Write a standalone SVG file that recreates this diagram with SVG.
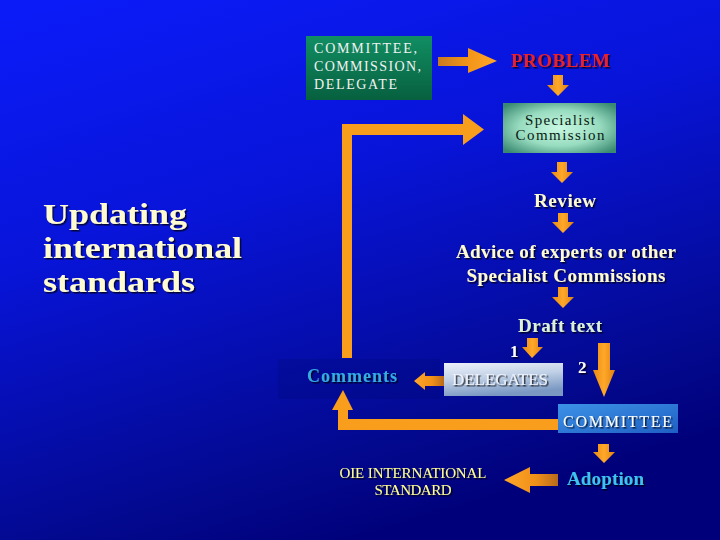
<svg xmlns="http://www.w3.org/2000/svg" width="720" height="540" viewBox="0 0 720 540">
<defs>
<linearGradient id="bg" x1="0.1" y1="0" x2="0.5" y2="1">
<stop offset="0" stop-color="#0b1bf7"/>
<stop offset="0.4" stop-color="#0814d8"/>
<stop offset="0.85" stop-color="#03098f"/>
<stop offset="1" stop-color="#00007a"/>
</linearGradient>
<linearGradient id="gGreen" x1="0" y1="0" x2="0" y2="1">
<stop offset="0" stop-color="#118e63"/>
<stop offset="1" stop-color="#07603f"/>
</linearGradient>
<radialGradient id="gSpec" cx="0.5" cy="0.5" r="0.65">
<stop offset="0" stop-color="#c8f8e2"/>
<stop offset="0.55" stop-color="#98dcc0"/>
<stop offset="1" stop-color="#3a8a72"/>
</radialGradient>
<linearGradient id="gDel" x1="0" y1="0" x2="0.3" y2="1">
<stop offset="0" stop-color="#eef2fa"/>
<stop offset="0.5" stop-color="#c0d0e6"/>
<stop offset="1" stop-color="#7a98c2"/>
</linearGradient>
<linearGradient id="gCom" x1="0" y1="0" x2="1" y2="1">
<stop offset="0" stop-color="#3c92e6"/>
<stop offset="1" stop-color="#1f5fc4"/>
</linearGradient>
<linearGradient id="gDown" x1="0" y1="0" x2="1" y2="0">
<stop offset="0" stop-color="#e88a12"/>
<stop offset="0.5" stop-color="#ffa82a"/>
<stop offset="1" stop-color="#e0820e"/>
</linearGradient>
<linearGradient id="gLeft" x1="0" y1="0" x2="1" y2="0">
<stop offset="0" stop-color="#ffa62a"/>
<stop offset="0.6" stop-color="#f09018"/>
<stop offset="1" stop-color="#b86a1c"/>
</linearGradient>
<linearGradient id="gRight" x1="0" y1="0" x2="1" y2="0">
<stop offset="0" stop-color="#c87a22"/>
<stop offset="0.5" stop-color="#f29418"/>
<stop offset="1" stop-color="#ffa82a"/>
</linearGradient>
<filter id="sh" x="-10%" y="-20%" width="130%" height="160%">
<feDropShadow dx="1.5" dy="1.5" stdDeviation="0.6" flood-color="#000" flood-opacity="0.75"/>
</filter>
</defs>
<style>
text{font-family:"Liberation Serif","Times New Roman",serif;}
.b{font-weight:bold;}
.cream{fill:#fffbd0;}
.loop{fill:#f99d1c;}
.down{fill:url(#gDown);}
.left{fill:url(#gLeft);}
.right{fill:url(#gRight);}
.sh{filter:url(#sh);}
</style>
<rect width="720" height="540" fill="url(#bg)"/>
<rect x="278" y="359" width="162" height="40" fill="#000a7a" opacity="0.3"/>

<g id="title">
<text class="b cream sh" x="43" y="224" font-size="30" textLength="144" lengthAdjust="spacingAndGlyphs">Updating</text>
<text class="b cream sh" x="43" y="258" font-size="30" textLength="199" lengthAdjust="spacingAndGlyphs">international</text>
<text class="b cream sh" x="43" y="292" font-size="30" textLength="152" lengthAdjust="spacingAndGlyphs">standards</text>
</g>

<g id="connectors">
<polygon class="right" points="438,57 468,57 468,48 497,61 468,73 468,66 438,66"/>
<polygon class="down" points="553,75 563,75 563,85 569,85 558,96 547,85 553,85"/>
<polygon class="down" points="557,162 567,162 567,172 573,172 562,183 551,172 557,172"/>
<polygon class="down" points="558,213 568,213 568,222 574,222 563,233 552,222 558,222"/>
<polygon class="down" points="558,287 568,287 568,297 574,297 563,308 552,297 558,297"/>
<polygon class="down" points="527,338 538,338 538,347 543,347 532,358 522,347 527,347"/>
<polygon class="down" points="598,343 610,343 610,370 615,370 604,397 593,370 598,370"/>
<polygon class="down" points="598,444 609,444 609,452 615,452 604,463 593,452 598,452"/>
<polygon class="left" points="414,381 425,372 425,376 444,376 444,386 425,386 425,390"/>
<polygon class="left" points="504,480 530,467 530,474 558,474 558,486 530,486 530,493"/>
<polygon class="loop" points="558,419 348,419 348,410 353,410 343,390 332,410 338,410 338,430 558,430"/>
<polygon class="loop" points="342,358 352,358 352,135 463,135 463,145 484,129.5 463,114 463,124 342,124"/>
</g>

<g id="source">
<rect x="306" y="36" width="126" height="64" fill="url(#gGreen)"/>
<text x="314" y="53" font-size="14" fill="#f2f2f2" textLength="103" lengthAdjust="spacing">COMMITTEE,</text>
<text x="314" y="71" font-size="14" fill="#f2f2f2" textLength="107" lengthAdjust="spacing">COMMISSION,</text>
<text x="314" y="89" font-size="14" fill="#f2f2f2" textLength="83" lengthAdjust="spacing">DELEGATE</text>
</g>

<g id="problem">
<text class="b sh" x="511" y="67" font-size="19" fill="#e8202c" textLength="99" lengthAdjust="spacing">PROBLEM</text>
</g>

<g id="specialist">
<rect x="503" y="103" width="113" height="50" fill="url(#gSpec)"/>
<text x="560" y="125" font-size="15" fill="#0a1a10" text-anchor="middle" textLength="70" lengthAdjust="spacing">Specialist</text>
<text x="560" y="140" font-size="15" fill="#0a1a10" text-anchor="middle" textLength="89" lengthAdjust="spacing">Commission</text>
</g>

<g id="review">
<text class="b cream sh" x="565" y="207" font-size="19" text-anchor="middle" textLength="62" lengthAdjust="spacing">Review</text>
</g>

<g id="advice">
<text class="b cream sh" x="566" y="258" font-size="19" text-anchor="middle" textLength="220" lengthAdjust="spacing">Advice of experts or other</text>
<text class="b cream sh" x="566" y="282" font-size="19" text-anchor="middle" textLength="199" lengthAdjust="spacing">Specialist Commissions</text>
</g>

<g id="draft">
<text class="b sh" x="560" y="332" font-size="19" fill="#dcf2d8" text-anchor="middle" textLength="84" lengthAdjust="spacing">Draft text</text>
<text class="b sh" x="510" y="357" font-size="17" fill="#ffffff">1</text>
<text class="b sh" x="578" y="373" font-size="17" fill="#ffffff">2</text>
</g>

<g id="delegates">
<rect x="444" y="363" width="119" height="33" fill="url(#gDel)"/>
<text class="sh" x="452" y="385" font-size="17" fill="#eef2fa" textLength="96" lengthAdjust="spacing">DELEGATES</text>
</g>

<g id="comments">
<text class="b sh" x="307" y="382" font-size="18" fill="#34ace2" textLength="90" lengthAdjust="spacing">Comments</text>
</g>

<g id="committee">
<rect x="558" y="404" width="120" height="29" fill="url(#gCom)"/>
<text class="sh" x="563" y="427" font-size="16" fill="#ffffff" textLength="109" lengthAdjust="spacing">COMMITTEE</text>
</g>

<g id="adoption">
<text class="b sh" x="567" y="485" font-size="19" fill="#3cc2f2" textLength="77" lengthAdjust="spacing">Adoption</text>
</g>

<g id="standard">
<text class="sh" x="413" y="478" font-size="15" fill="#ffff90" text-anchor="middle" textLength="147" lengthAdjust="spacing">OIE INTERNATIONAL</text>
<text class="sh" x="413" y="495" font-size="15" fill="#ffff90" text-anchor="middle" textLength="77" lengthAdjust="spacing">STANDARD</text>
</g>
</svg>
